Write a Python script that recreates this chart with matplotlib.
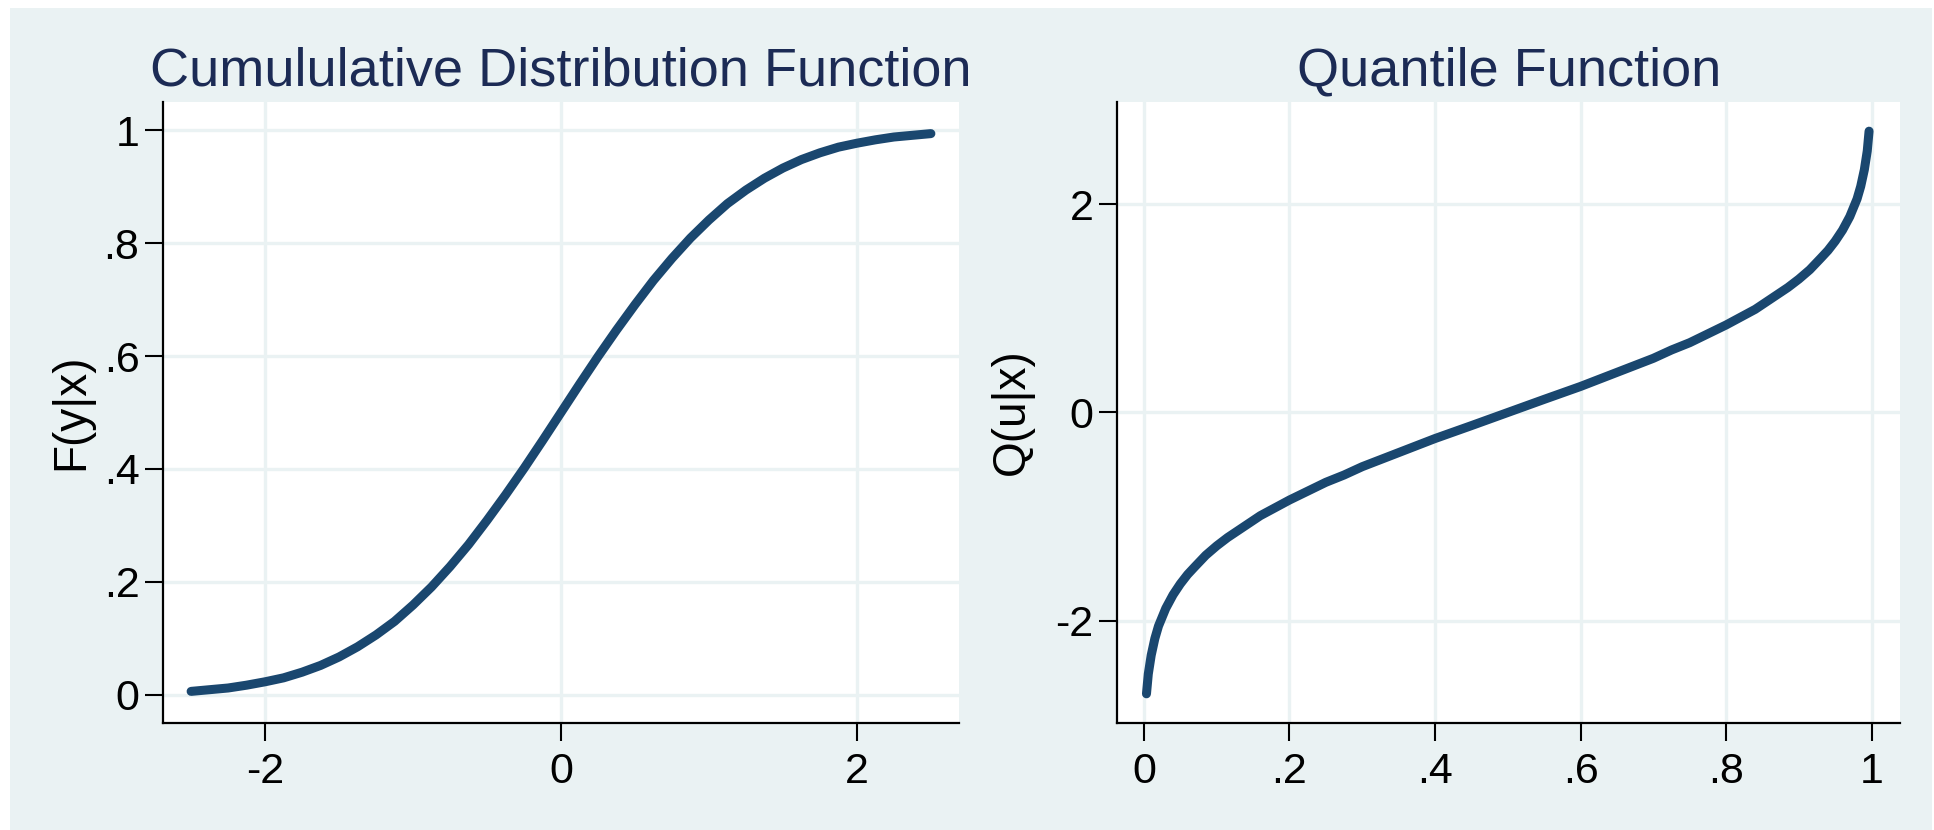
import matplotlib
matplotlib.use("Agg")

import matplotlib.pyplot as plt
from matplotlib.patches import Rectangle

plt.rcParams["font.family"] = ["Liberation Sans", "DejaVu Sans"]

# -- Data ---------------------------------------------------------------
cdf_y = [-2.5, -2.375, -2.25, -2.125, -2.0, -1.875, -1.75, -1.625, -1.5, -1.375,
         -1.25, -1.125, -1.0, -0.875, -0.75, -0.625, -0.5, -0.375, -0.25, -0.125, 0.0,
         0.125, 0.25, 0.375, 0.5, 0.625, 0.75, 0.875, 1.0, 1.125, 1.25, 1.375,
         1.5, 1.625, 1.75, 1.875, 2.0, 2.125, 2.25, 2.375, 2.5]
cdf_F = [0.006, 0.009, 0.012, 0.017, 0.023, 0.030, 0.040, 0.052, 0.067, 0.085,
         0.106, 0.130, 0.159, 0.191, 0.227, 0.266, 0.309, 0.354, 0.401, 0.450, 0.500,
         0.550, 0.599, 0.646, 0.691, 0.734, 0.773, 0.809, 0.841, 0.870, 0.894, 0.915,
         0.933, 0.948, 0.960, 0.970, 0.977, 0.983, 0.988, 0.991, 0.994]

qf_u = [0.0035, 0.006, 0.01, 0.015, 0.02, 0.03, 0.04, 0.05, 0.06, 0.07, 0.085, 0.10,
        0.115, 0.13, 0.145, 0.16, 0.18, 0.20, 0.225, 0.25, 0.275, 0.30, 0.35, 0.40,
        0.45, 0.50, 0.55, 0.60, 0.65, 0.70, 0.725, 0.75, 0.775, 0.80, 0.82, 0.84,
        0.855, 0.87, 0.885, 0.90, 0.915, 0.93, 0.94, 0.95, 0.96, 0.97, 0.98, 0.985,
        0.99, 0.994, 0.9965]
qf_Q = [-2.70, -2.51, -2.33, -2.17, -2.05, -1.88, -1.75, -1.645, -1.555, -1.48, -1.37, -1.28,
        -1.20, -1.13, -1.06, -0.99, -0.915, -0.84, -0.755, -0.67, -0.60, -0.52, -0.385, -0.25,
        -0.126, 0.0, 0.126, 0.25, 0.385, 0.52, 0.60, 0.67, 0.755, 0.84, 0.915, 0.99,
        1.06, 1.13, 1.20, 1.28, 1.37, 1.48, 1.555, 1.645, 1.75, 1.88, 2.05, 2.17,
        2.33, 2.51, 2.70]

left_xticks = [-2, 0, 2]
left_xlabels = ["-2", "0", "2"]
left_yticks = [0, 0.2, 0.4, 0.6, 0.8, 1]
left_ylabels = ["0", ".2", ".4", ".6", ".8", "1"]
right_xticks = [0, 0.2, 0.4, 0.6, 0.8, 1]
right_xlabels = ["0", ".2", ".4", ".6", ".8", "1"]
right_yticks = [-2, 0, 2]
right_ylabels = ["-2", "0", "2"]

BG = "#eaf2f3"
LINE = "#1a476f"
TITLE = "#1c2b55"

W, H = 1934, 830
fig = plt.figure(figsize=(W / 100, H / 100), dpi=100)
fig.patch.set_facecolor("white")
fig.patches.append(Rectangle((10 / W, 0), 1 - 12 / W, 1 - 8 / H,
                             transform=fig.transFigure, facecolor=BG,
                             edgecolor="none", zorder=-10))


def px_axes(left, right, top, bottom):
    return fig.add_axes([left / W, 1 - bottom / H, (right - left) / W, (bottom - top) / H])


def style(ax, xticks, xlabels, yticks, ylabels):
    ax.set_facecolor("white")
    for s in ("top", "right"):
        ax.spines[s].set_visible(False)
    for s in ("left", "bottom"):
        ax.spines[s].set_linewidth(1.6)
        ax.spines[s].set_color("black")
    ax.set_xticks(xticks)
    ax.set_xticklabels(xlabels)
    ax.set_yticks(yticks)
    ax.set_yticklabels(ylabels)
    ax.tick_params(axis="both", length=13, width=1.5, labelsize=31, color="black")
    ax.tick_params(axis="x", pad=8)
    ax.tick_params(axis="y", pad=4)
    ax.grid(True, color=BG, linewidth=2.4)
    ax.set_axisbelow(True)


# -- Panel 1: CDF --------------------------------------------------------
ax = px_axes(163, 959, 102, 723)
ax.plot(cdf_y, cdf_F, color=LINE, linewidth=6.5, solid_capstyle="round",
        solid_joinstyle="round")
ax.set_xlim(-2.69, 2.69)
ax.set_ylim(-0.05, 1.05)
style(ax, left_xticks, left_xlabels, left_yticks, left_ylabels)
fig.text(561 / W, 1 - 85 / H, "Cumululative Distribution Function", ha="center",
         va="baseline", fontsize=39, color=TITLE)
fig.text(71 / W, 1 - 412 / H, "F(y|x)", rotation=90, ha="center", va="center",
         fontsize=33)

# -- Panel 2: Quantile function -----------------------------------------
ax = px_axes(1117, 1900, 102, 723)
ax.plot(qf_u, qf_Q, color=LINE, linewidth=6.5, solid_capstyle="round",
        solid_joinstyle="round")
ax.set_xlim(-0.037, 1.039)
ax.set_ylim(-2.98, 2.98)
style(ax, right_xticks, right_xlabels, right_yticks, right_ylabels)
fig.text(1509 / W, 1 - 85 / H, "Quantile Function", ha="center",
         va="baseline", fontsize=39, color=TITLE)
fig.text(1012 / W, 1 - 412 / H, "Q(u|x)", rotation=90, ha="center", va="center",
         fontsize=33)

fig.savefig("out.png", dpi=100)
plt.close(fig)
